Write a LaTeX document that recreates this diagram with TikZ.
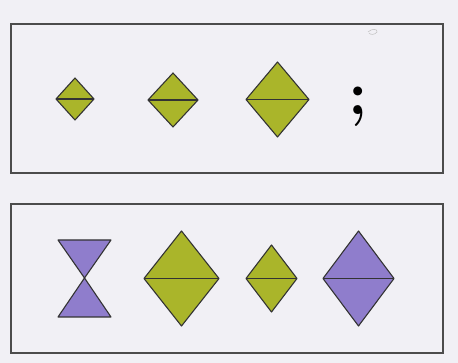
\documentclass[tikz,border=0pt]{standalone}
\begin{document}
\begin{tikzpicture}[x=1pt,y=-1pt,
  panel/.style={draw=black!70, line width=1.1pt},
  shp/.style={draw=black!80, line width=1.1pt, line join=round},
  mid/.style={draw=black!80, line width=1.1pt}]
\definecolor{bgc}{HTML}{F1F0F5}
\definecolor{lime}{HTML}{AAB52A}
\definecolor{lav}{HTML}{8F7DCC}
\fill[bgc] (0,0) rectangle (458,363);
\useasboundingbox (0,0) rectangle (458,363);
% panels
\draw[panel] (11,24) rectangle (443,173);
\draw[panel] (11,204) rectangle (443,353);
% top row diamonds
\newcommand{\dia}[5]{% cx cy halfw halfh colour
  \fill[#5] (#1-#3,#2) -- (#1,#2-#4) -- (#1+#3,#2) -- (#1,#2+#4) -- cycle;
  \draw[shp] (#1-#3,#2) -- (#1,#2-#4) -- (#1+#3,#2) -- (#1,#2+#4) -- cycle;
  \draw[mid] (#1-#3,#2) -- (#1+#3,#2);}
\dia{75}{99}{19}{21}{lime}
\dia{173}{100}{25}{27}{lime}
\dia{277.5}{99.5}{31.5}{37.5}{lime}
\node[inner sep=0pt] (semi) at (358,107) {\fontsize{62}{62}\selectfont\bfseries ;};
% faint pencil mark
\draw[black!25, line width=0.5pt] (368,32) .. controls (372,28) and (378,29) .. (377,32) .. controls (375,35) and (370,35) .. (369,33);
% bottom row
\fill[lav] (58,240) -- (111,240) -- (84.5,278) -- cycle;
\fill[lav] (58,317) -- (111,317) -- (84.5,278) -- cycle;
\draw[shp] (58,240) -- (111,240) -- (84.5,278) -- cycle;
\draw[shp] (58,317) -- (111,317) -- (84.5,278) -- cycle;
\dia{181.5}{278.5}{37.5}{47.5}{lime}
\dia{271.5}{278.5}{25.5}{33.5}{lime}
\dia{358.5}{278.5}{35.5}{47.5}{lav}
\end{tikzpicture}
\end{document}
